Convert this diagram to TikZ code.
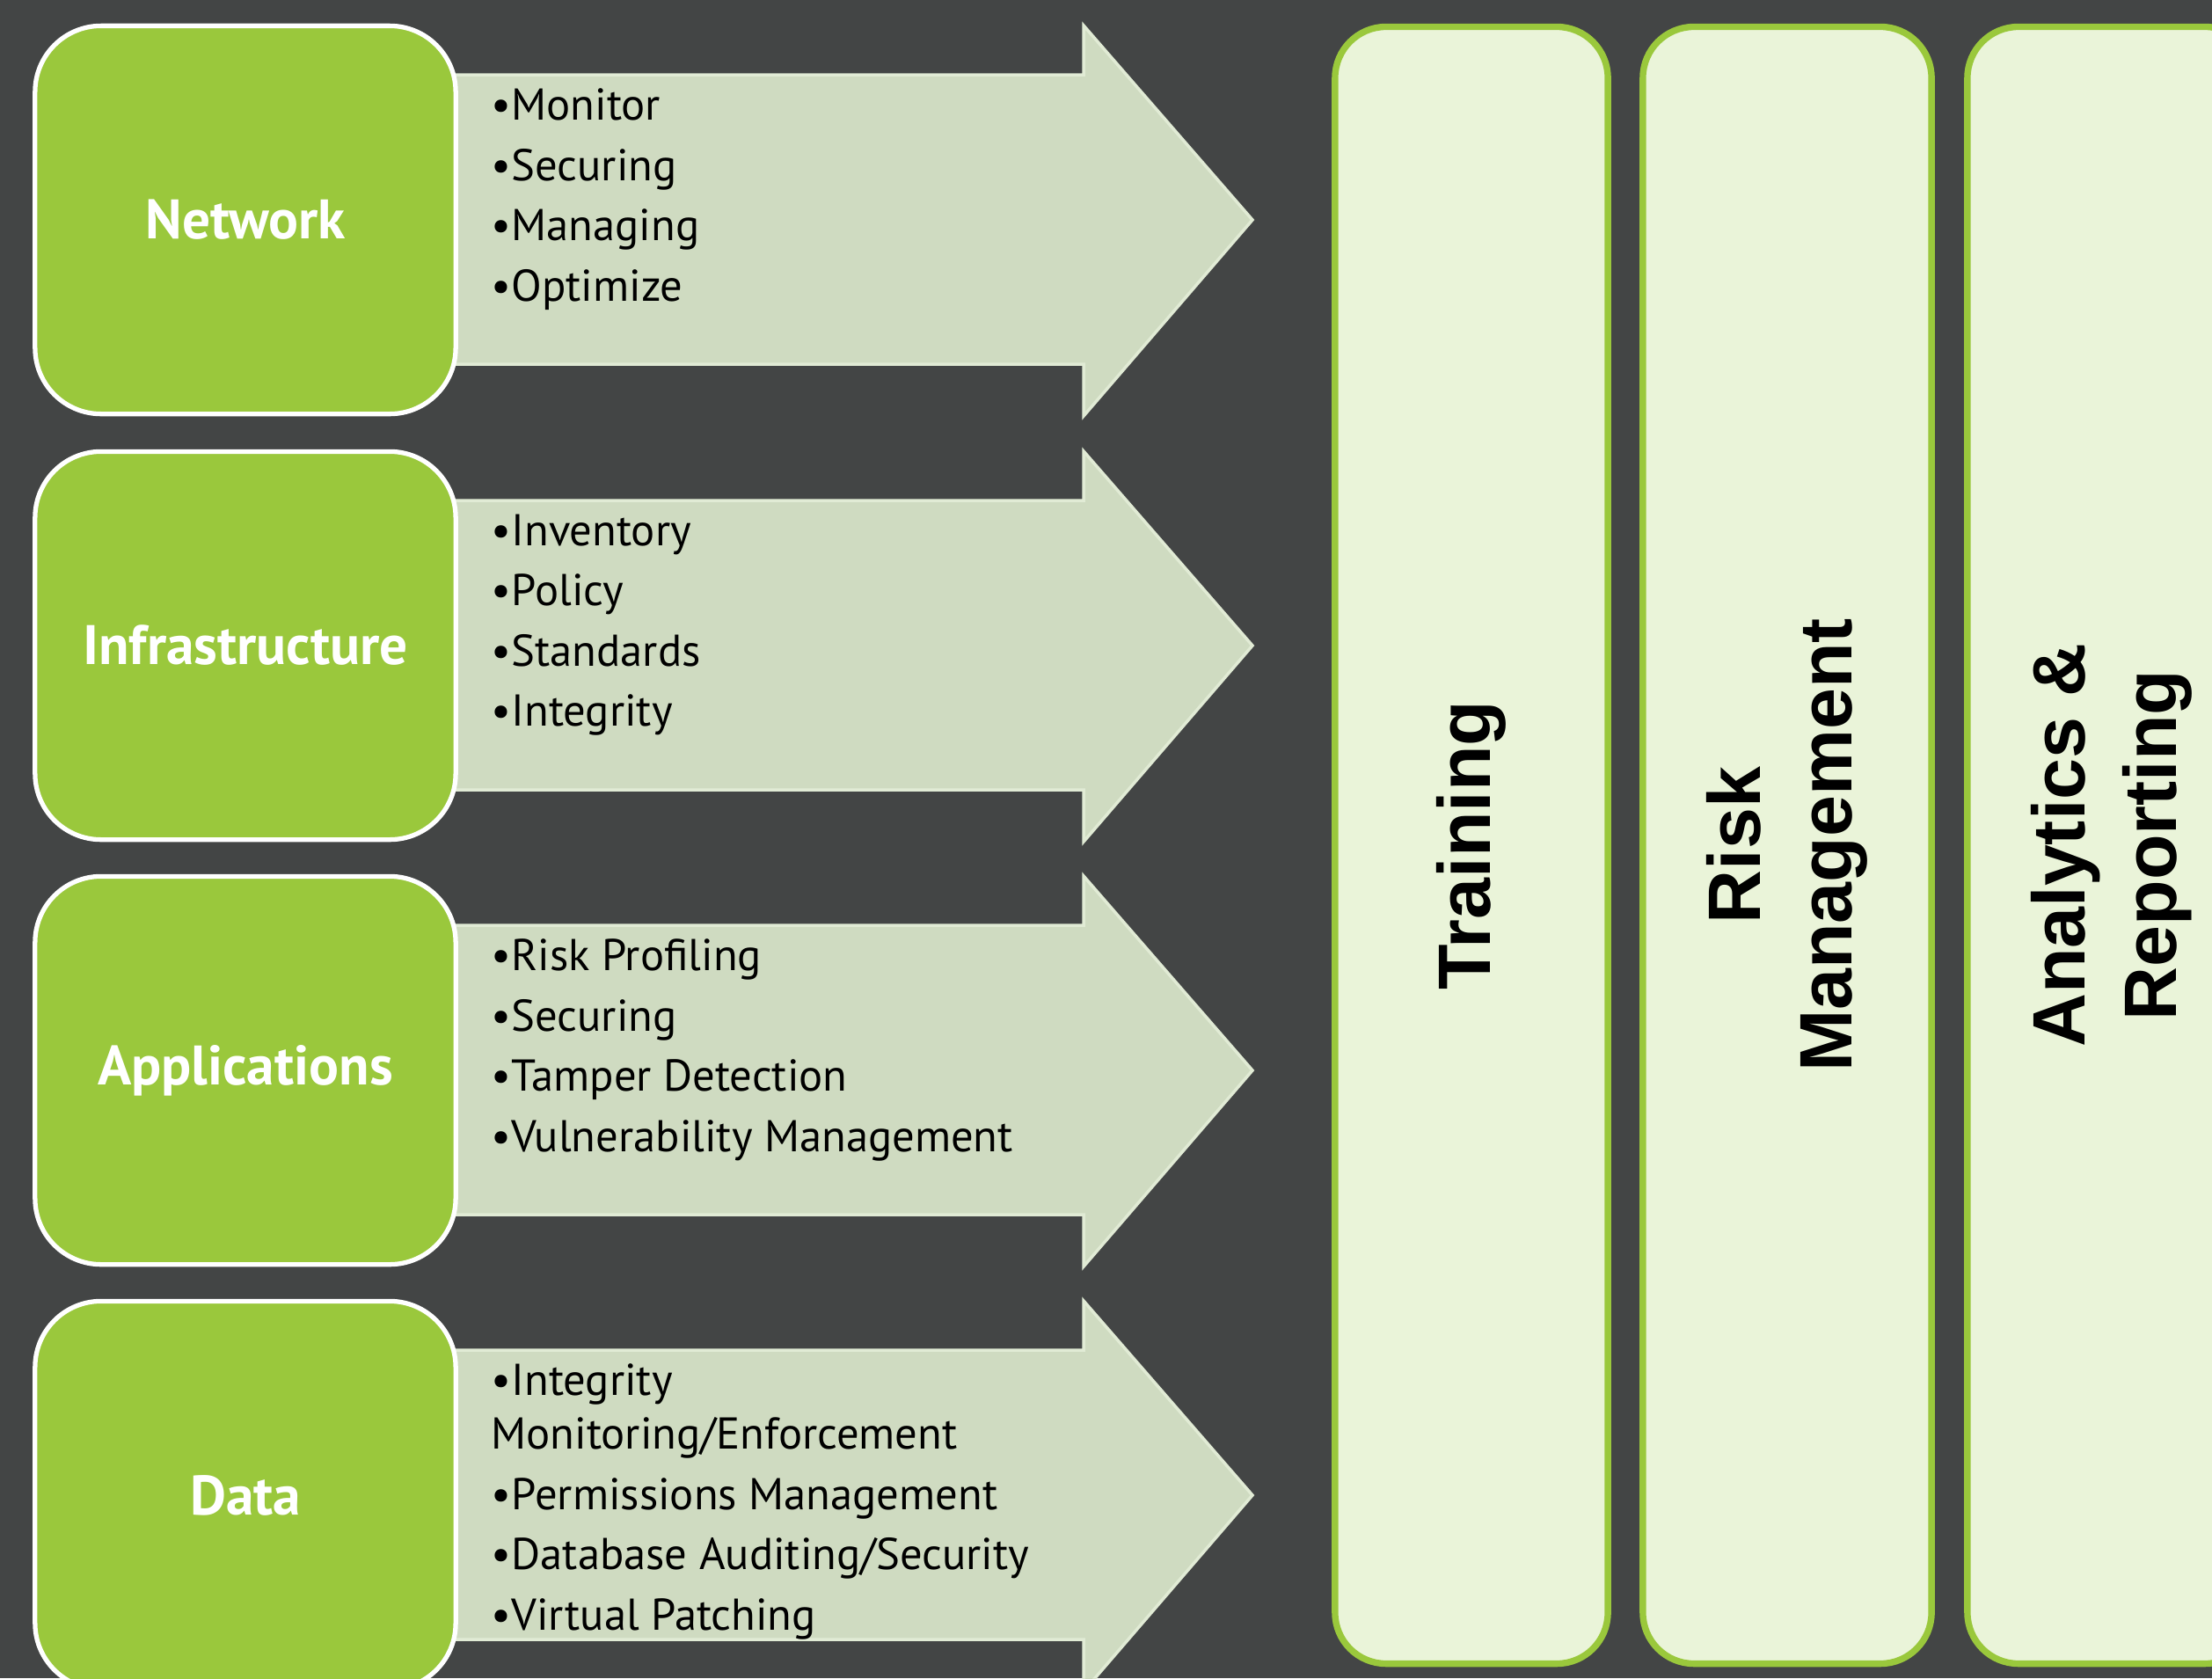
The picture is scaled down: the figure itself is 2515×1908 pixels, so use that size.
\documentclass[tikz,border=0pt]{standalone}
\usepackage{fontspec}
\setmainfont{PT Sans}
\newfontfamily\colfont{Liberation Sans}
\definecolor{bgdark}{HTML}{434545}
\definecolor{leafgreen}{HTML}{9AC83C}
\definecolor{arrowfill}{HTML}{CFDBC1}
\definecolor{arrowline}{HTML}{E1EBD5}
\definecolor{pillarfill}{HTML}{EAF4D9}

\begin{document}
\begin{tikzpicture}[x=0.01cm, y=-0.01cm,
	layerbox/.style={draw=white, line width=1.5pt, fill=leafgreen, rounded corners=0.75cm,
		minimum width=4.78cm, minimum height=4.41cm, inner sep=0pt, text=white,
		font=\fontsize{18}{21}\selectfont\bfseries},
	flowarrow/.style={draw=arrowline, line width=1pt, fill=arrowfill},
	itemlist/.style={anchor=north west, inner sep=0pt, align=left,
		font=\fontsize{14.4}{17.3}\selectfont},
	pillar/.style={draw=leafgreen, line width=2.1pt, fill=pillarfill, rounded corners=0.58cm,
		rotate=90, minimum width=18.6cm, inner sep=0pt, align=center,
		font=\colfont\bfseries\fontsize{24}{29.5}\selectfont}]
	\useasboundingbox (0,0) rectangle (2515,1908);
	\clip (0,0) rectangle (2515,1908);
	\fill [bgdark] (0,0) rectangle (2515,1908);

	% rows: arrow first, box on top
	\draw [flowarrow] (480,85) -- (1232,85) -- (1232,29) -- (1424,250) -- (1232,473) -- (1232,414) -- (480,414) -- cycle;
	\node [layerbox] (network) at (279,250) {Network};
	\node [itemlist] (networklist) at (558,100) {•Monitor\\[2.2pt] •Securing\\[2.2pt] •Managing\\[2.2pt] •Optimize};

	\draw [flowarrow] (480,569) -- (1232,569) -- (1232,513) -- (1424,734) -- (1232,957) -- (1232,898) -- (480,898) -- cycle;
	\node [layerbox] (infra) at (279,734) {Infrastructure};
	\node [itemlist] (infralist) at (558,584) {•Inventory\\[2.2pt] •Policy\\[2.2pt] •Standards\\[2.2pt] •Integrity};

	\draw [flowarrow] (480,1052) -- (1232,1052) -- (1232,996) -- (1424,1217) -- (1232,1440) -- (1232,1381) -- (480,1381) -- cycle;
	\node [layerbox] (apps) at (279,1217) {Applications};
	\node [itemlist] (appslist) at (558,1067) {•Risk Profiling\\[2.2pt] •Securing\\[2.2pt] •Tamper Detection\\[2.2pt] •Vulnerability Management};

	\draw [flowarrow] (480,1535) -- (1232,1535) -- (1232,1479) -- (1424,1700) -- (1232,1923) -- (1232,1864) -- (480,1864) -- cycle;
	\node [layerbox] (data) at (279,1700) {Data};
	\node [itemlist] (datalist) at (558,1550) {•Integrity\\ Monitoring/Enforcement\\[2.2pt] •Permissions Management\\[2.2pt] •Database Auditing/Security\\[2.2pt] •Virtual Patching};

	% columns on the right
	\node [pillar, minimum height=3.10cm] (training) at (1673,961) {Training};
	\node [pillar, minimum height=3.28cm] (risk) at (2032,961) {Risk\\ Management};
	\node [pillar, minimum height=3.28cm] (analytics) at (2401,961) {Analytics \&\\ Reporting};
\end{tikzpicture}
\end{document}
